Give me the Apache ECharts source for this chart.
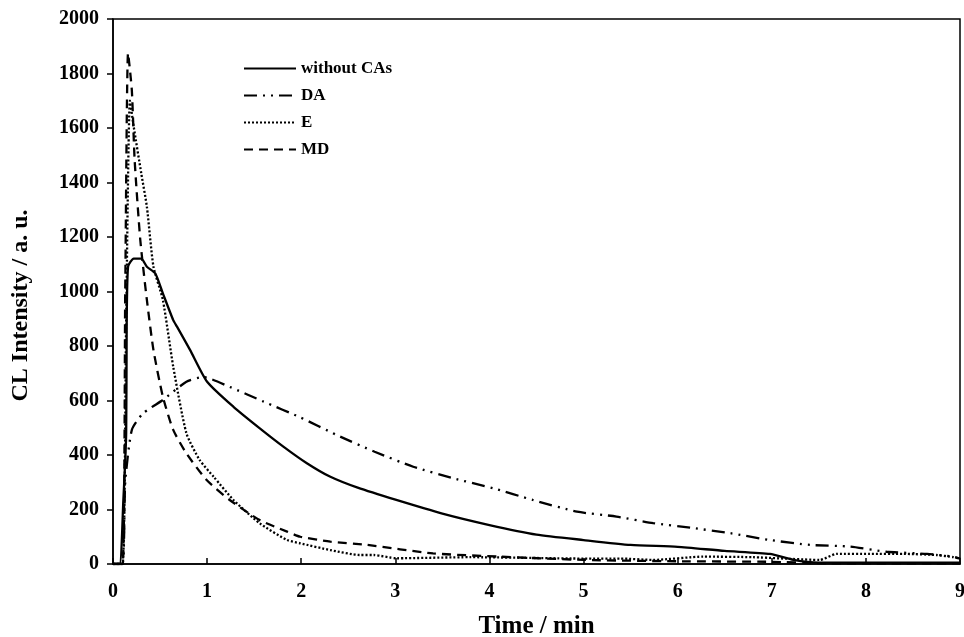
<!DOCTYPE html>
<html>
<head>
<meta charset="utf-8">
<script src="https://cdn.jsdelivr.net/npm/echarts@6/dist/echarts.min.js"></script>
<style>
  html, body { margin: 0; padding: 0; background: #fff; }
  #chart { width: 964px; height: 637px; }
</style>
</head>
<body>
<div id="chart"></div>
<script>
// time (min), intensity (a.u.)
var withoutCAs = [[0,0],[0.07,0],[0.11,235],[0.14,480],[0.145,846],[0.16,1091],[0.22,1121],[0.30,1121],[0.36,1091],
  [0.45,1066],[0.53,993],[0.64,895],[0.68,871],[0.82,785],[1.0,669],[1.28,577],[1.56,498],[1.81,431],[2.06,370],
  [2.31,320],[2.6,280],[3.01,235],[3.5,185],[4.0,143],[4.5,108],[5.0,88],[5.5,70],[6.0,63],[6.5,48],[6.98,37],
  [7.23,15],[7.5,5],[8.0,5],[9.0,5]];
var da = [[0,0],[0.1,0],[0.13,300],[0.2,492],[0.32,553],[0.53,602],[0.78,669],[0.96,686],[1.24,650],[1.6,596],
  [1.99,538],[2.38,473],[2.78,412],[3.19,357],[3.61,315],[4.04,278],[4.46,235],[4.93,192],[5.35,174],[5.74,150],
  [6.16,132],[6.56,113],[6.98,88],[7.41,70],[7.83,64],[8.22,45],[8.65,37],[8.93,27],[9.0,20]];
var e = [[0,0],[0.1,0],[0.14,900],[0.18,1700],[0.22,1605],[0.30,1434],[0.36,1311],[0.43,1091],[0.53,969],
  [0.64,724],[0.78,480],[0.92,382],[1.07,320],[1.28,235],[1.56,149],[1.85,88],[1.99,76],[2.31,51],[2.62,33],
  [2.77,33],[3.01,21],[3.8,25],[5.0,20],[5.39,20],[5.74,15],[6.27,27],[6.8,25],[7.51,15],[7.69,37],[8.04,37],
  [8.4,37],[8.75,33],[8.93,25],[9.0,20]];
var md = [[0,0],[0.1,0],[0.13,1000],[0.16,1875],[0.2,1739],[0.23,1482],[0.29,1189],[0.36,969],[0.43,785],
  [0.53,614],[0.64,492],[0.78,406],[0.995,308],[1.24,235],[1.56,161],[1.85,119],[1.99,100],[2.31,82],[2.70,70],
  [3.40,39],[4.11,27],[5.0,15],[6.0,10],[7.0,8],[7.5,3],[8.0,2],[9.0,2]];
var xTicks = { min: 0, max: 9, step: 1 };
var yTicks = { min: 0, max: 2000, step: 200 };

var font = '"Liberation Serif", "Times New Roman", serif';
var chart = echarts.init(document.getElementById('chart'));

function line(name, data, type) {
  return {
    name: name,
    type: 'line',
    data: data,
    smooth: 0.2,
    showSymbol: false,
    symbol: 'none',
    animation: false,
    lineStyle: { color: '#000', width: 2.3, type: type },
    itemStyle: { color: '#000' }
  };
}

chart.setOption({
  backgroundColor: '#fff',
  grid: {
    left: 113, right: 4, top: 19, bottom: 73,
    outerBoundsMode: 'none',
    show: true, borderColor: '#000', borderWidth: 1.5
  },
  legend: {
    orient: 'vertical',
    left: 238, top: 55,
    itemWidth: 52, itemHeight: 14, itemGap: 10,
    itemStyle: { opacity: 0 },
    textStyle: { fontFamily: font, fontWeight: 'bold', fontSize: 17, color: '#000' },
    data: ['without CAs', 'DA', 'E', 'MD']
  },
  xAxis: {
    type: 'value',
    min: xTicks.min, max: xTicks.max, interval: xTicks.step,
    name: 'Time / min',
    nameLocation: 'middle',
    nameGap: 50,
    nameTextStyle: { fontFamily: font, fontWeight: 'bold', fontSize: 25, color: '#000' },
    axisLine: { lineStyle: { color: '#000', width: 1.5 } },
    axisTick: { inside: true, length: 6, lineStyle: { color: '#000', width: 1.5 } },
    axisLabel: { margin: 18, fontFamily: font, fontWeight: 'bold', fontSize: 20, color: '#000' },
    splitLine: { show: false }
  },
  yAxis: {
    type: 'value',
    min: yTicks.min, max: yTicks.max, interval: yTicks.step,
    name: 'CL Intensity / a. u.',
    nameLocation: 'middle',
    nameGap: 80,
    nameTextStyle: { fontFamily: font, fontWeight: 'bold', fontSize: 24, color: '#000', padding: [0, 28, 0, 0] },
    axisLine: { show: true, lineStyle: { color: '#000', width: 1.5 } },
    axisTick: { show: true, inside: false, length: 6, lineStyle: { color: '#000', width: 1.5 } },
    axisLabel: {
      margin: 14, fontFamily: font, fontWeight: 'bold', fontSize: 20, color: '#000',
      formatter: function (v) { return String(v); }
    },
    splitLine: { show: false }
  },
  series: [
    line('without CAs', withoutCAs, 'solid'),
    line('DA', da, [13, 6, 2, 6, 2, 6]),
    line('E', e, [2, 2]),
    line('MD', md, [9, 6])
  ]
});
</script>
</body>
</html>
